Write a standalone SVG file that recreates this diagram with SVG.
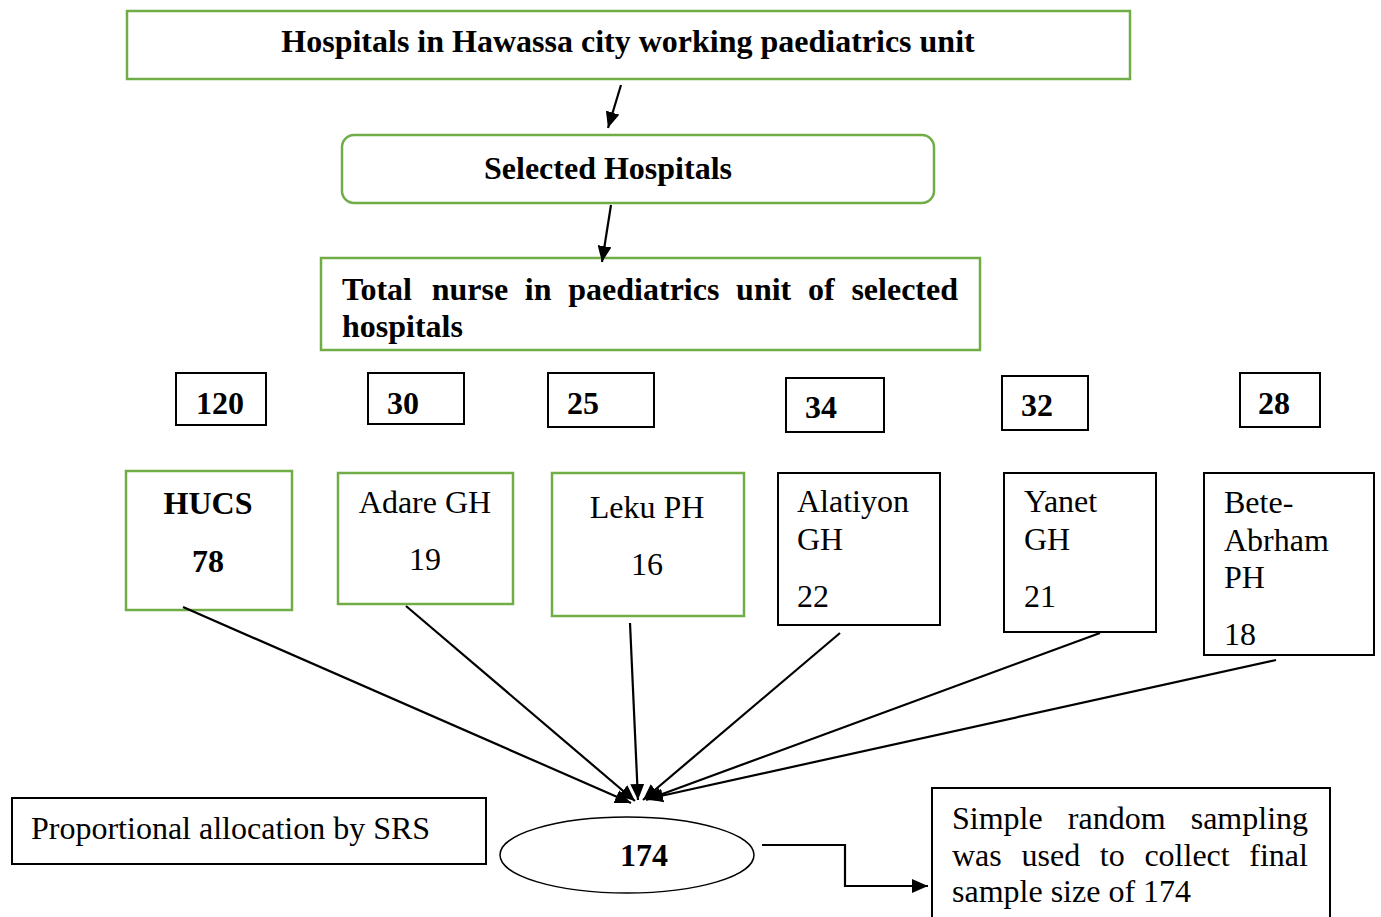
<svg xmlns="http://www.w3.org/2000/svg" width="1381" height="917" viewBox="0 0 1381 917">
<style>
.g{fill:#fff;stroke:#70AD47;stroke-width:2.5}
.k{fill:#fff;stroke:#000;stroke-width:2}
.t{font-family:"Liberation Serif","Times New Roman",serif;font-size:32px;fill:#000}
.b{font-weight:bold}
.c{stroke:#000;stroke-width:2.2;fill:none}
</style>
<defs>
<marker id="ah" markerUnits="userSpaceOnUse" markerWidth="18" markerHeight="14" refX="16" refY="7" orient="auto">
<path d="M0,0 L16,7 L0,14 Z" fill="#000"/>
</marker>
</defs>
<g id="n-top">
<rect class="g" x="127" y="11" width="1003" height="68"/>
<text class="t b" x="628" y="52" text-anchor="middle">Hospitals in Hawassa city working paediatrics unit</text>
</g>
<g id="n-selected">
<rect class="g" x="342" y="135" width="592" height="68" rx="12"/>
<text class="t b" x="608" y="179" text-anchor="middle">Selected Hospitals</text>
</g>
<g id="n-total">
<rect class="g" x="321" y="258" width="659" height="92"/>
<text class="t b" y="300"><tspan x="342">Total</tspan><tspan x="431.7">nurse</tspan><tspan x="524.8">in</tspan><tspan x="568.3">paediatrics</tspan><tspan x="736.1">unit</tspan><tspan x="808">of</tspan><tspan x="851.4">selected</tspan></text>
<text class="t b" x="342" y="337">hospitals</text>
</g>
<g id="n-120"><rect class="k" x="176" y="373" width="90" height="52"/><text class="t b" x="196" y="414">120</text></g>
<g id="n-30"><rect class="k" x="368" y="373" width="96" height="51"/><text class="t b" x="387" y="414">30</text></g>
<g id="n-25"><rect class="k" x="548" y="373" width="106" height="54"/><text class="t b" x="567" y="414">25</text></g>
<g id="n-34"><rect class="k" x="786" y="378" width="98" height="54"/><text class="t b" x="805" y="418">34</text></g>
<g id="n-32"><rect class="k" x="1002" y="376" width="86" height="54"/><text class="t b" x="1021" y="416">32</text></g>
<g id="n-28"><rect class="k" x="1240" y="373" width="80" height="54"/><text class="t b" x="1258" y="414">28</text></g>
<g id="n-hucs">
<rect class="g" x="126" y="471" width="166" height="139"/>
<text class="t b" x="208" y="514" text-anchor="middle">HUCS</text>
<text class="t b" x="208" y="572" text-anchor="middle">78</text>
</g>
<g id="n-adare">
<rect class="g" x="338" y="473" width="175" height="131"/>
<text class="t" x="425" y="513" text-anchor="middle">Adare GH</text>
<text class="t" x="425" y="570" text-anchor="middle">19</text>
</g>
<g id="n-leku">
<rect class="g" x="552" y="473" width="192" height="143"/>
<text class="t" x="647" y="518" text-anchor="middle">Leku PH</text>
<text class="t" x="647" y="575" text-anchor="middle">16</text>
</g>
<g id="n-alatiyon">
<rect class="k" x="778" y="473" width="162" height="152"/>
<text class="t" x="797" y="512">Alatiyon</text>
<text class="t" x="797" y="550">GH</text>
<text class="t" x="797" y="607">22</text>
</g>
<g id="n-yanet">
<rect class="k" x="1004" y="473" width="152" height="159"/>
<text class="t" x="1024" y="512">Yanet</text>
<text class="t" x="1024" y="550">GH</text>
<text class="t" x="1024" y="607">21</text>
</g>
<g id="n-bete">
<rect class="k" x="1204" y="473" width="170" height="182"/>
<text class="t" x="1224" y="513">Bete-</text>
<text class="t" x="1224" y="551">Abrham</text>
<text class="t" x="1224" y="588">PH</text>
<text class="t" x="1224" y="645">18</text>
</g>
<g id="n-prop">
<rect class="k" x="12" y="798" width="474" height="66"/>
<text class="t" x="31" y="839">Proportional allocation by SRS</text>
</g>
<g id="n-174">
<ellipse cx="627" cy="855" rx="127" ry="38" fill="#fff" stroke="#000" stroke-width="1.5"/>
<text class="t b" x="644" y="866" text-anchor="middle">174</text>
</g>
<g id="n-srs">
<rect class="k" x="932" y="788" width="398" height="140"/>
<text class="t" y="829"><tspan x="952">Simple</tspan><tspan x="1067.8">random</tspan><tspan x="1190.7">sampling</tspan></text>
<text class="t" y="866"><tspan x="952">was</tspan><tspan x="1021.5">used</tspan><tspan x="1099.8">to</tspan><tspan x="1144.4">collect</tspan><tspan x="1249.3">final</tspan></text>
<text class="t" x="952" y="902">sample size of 174</text>
</g>
<g id="connectors">
<line class="c" x1="621" y1="85" x2="608" y2="128" marker-end="url(#ah)"/>
<line class="c" x1="611" y1="205" x2="602" y2="262" marker-end="url(#ah)"/>
<line class="c" x1="183" y1="607" x2="631" y2="803" marker-end="url(#ah)"/>
<line class="c" x1="406" y1="606" x2="635" y2="801" marker-end="url(#ah)"/>
<line class="c" x1="630" y1="623" x2="638" y2="800" marker-end="url(#ah)"/>
<line class="c" x1="840" y1="633" x2="643" y2="800" marker-end="url(#ah)"/>
<line class="c" x1="1100" y1="633" x2="646" y2="800" marker-end="url(#ah)"/>
<line class="c" x1="1276" y1="660" x2="647" y2="799" marker-end="url(#ah)"/>
<polyline class="c" points="762,845 845,845 845,886 928,886" marker-end="url(#ah)"/>
</g>
</svg>
